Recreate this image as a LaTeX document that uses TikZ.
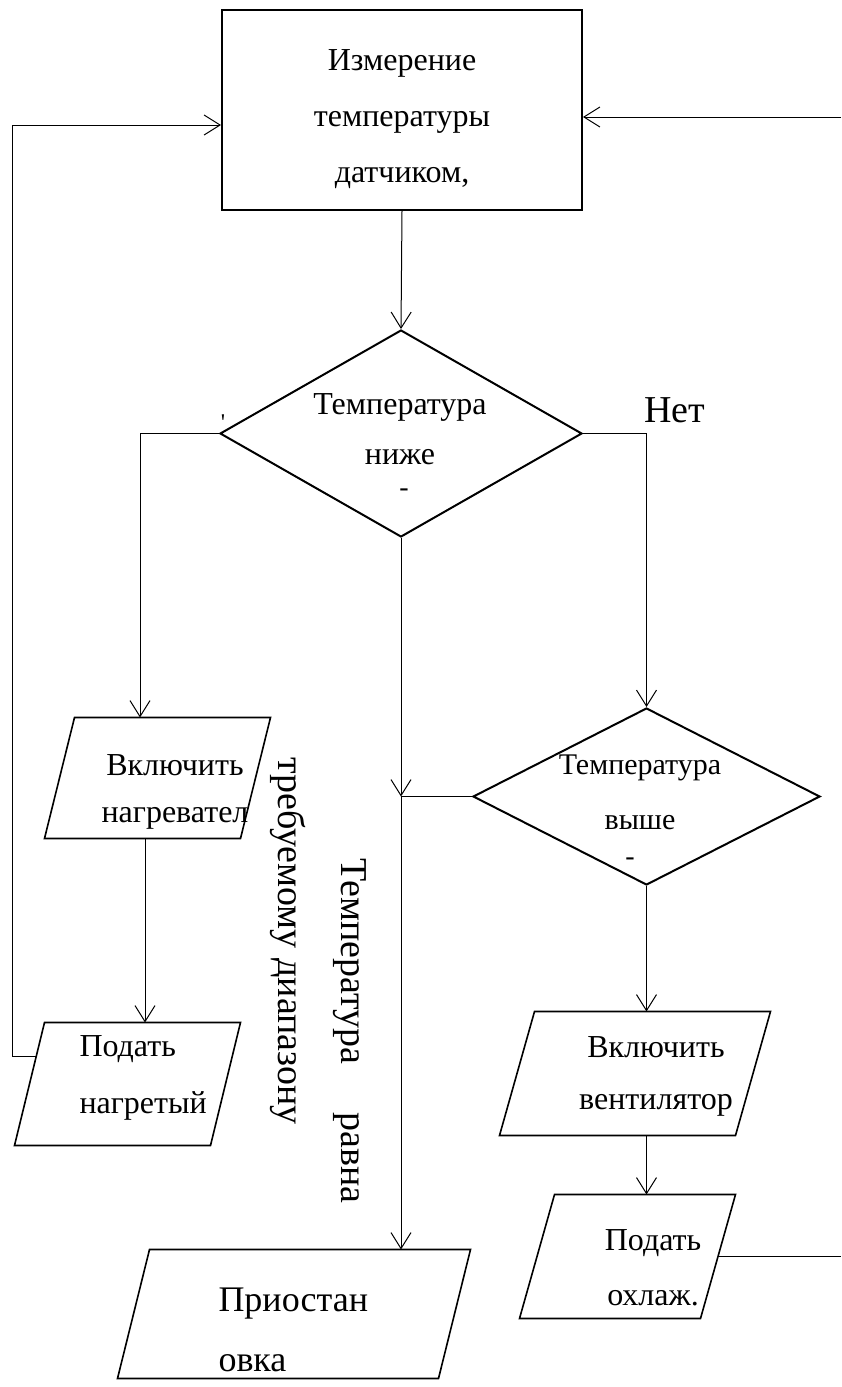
\documentclass[tikz,border=0pt]{standalone}
\usepackage{fontspec}
\setmainfont{Liberation Serif}
\usetikzlibrary{calc,arrows.meta,shapes.geometric}

\tikzset{
	caixa/.style={draw,line width=1pt,minimum width=180pt,minimum height=100pt,inner sep=0pt},
	losango/.style={diamond,draw,line width=1pt,inner sep=0pt},
	paral/.style={rectangle,inner sep=0pt},
	texto/.style={align=center,inner sep=0pt},
}
\newcommand{\paral}[2]{\draw[line width=0.8pt] ([xshift=#2]#1.north west) -- (#1.north east) -- ([xshift=-#2]#1.south east) -- (#1.south west) -- cycle;}
\newcommand{\fonte}[2]{\fontsize{#1}{#2}\selectfont}

\begin{document}
\begin{tikzpicture}[x=0.5pt,y=-0.5pt,>={Straight Barb[length=8pt,width=10pt]},line width=0.5pt]
		\useasboundingbox (0,0) rectangle (841,1387);
		
%		caixa superior
		\node[caixa] (med) at (402,110) {};
		\node[texto,font=\fonte{16}{28}] (tmed) at (402,119) {Измерение\\температуры\\датчиком,};
		
%		losangos
		\node[losango,minimum width=181pt,minimum height=103.5pt] (dbaixo) at (401,433.5) {};
		\node[texto,font=\fonte{16}{25}] (tbaixo) at (400,429) {Температура\\ниже};
		\node[losango,minimum width=173.5pt,minimum height=88.5pt] (dalto) at (646.5,796.5) {};
		\node[texto,font=\fonte{15}{27.5}] (talto) at (640,792) {Температура\\выше};
		
%		paralelogramos
		\node[paral,minimum width=112.5pt,minimum height=60pt] (aquec) at (157.5,778) {};
		\paral{aquec}{15pt}
		\node[texto,font=\fonte{16}{23.5}] (taquec) at (175,792) {Включить\\нагревател};
		
		\node[paral,minimum width=112.5pt,minimum height=61pt] (quente) at (127.5,1084) {};
		\paral{quente}{15pt}
		\node[texto,align=left,anchor=west,font=\fonte{16}{28.5}] (tquente) at (79,1078) {Подать\\нагретый};
		
		\node[paral,minimum width=176pt,minimum height=64pt] (pausa) at (294,1314) {};
		\paral{pausa}{16pt}
		\node[texto,align=left,anchor=west,font=\fonte{18}{30}] (tpausa) at (218,1330) {Приостан\\овка};
		
		\node[paral,minimum width=135pt,minimum height=61.5pt] (vent) at (635,1073.5) {};
		\paral{vent}{17.5pt}
		\node[texto,font=\fonte{16}{26}] (tvent) at (656,1076) {Включить\\вентилятор};
		
		\node[paral,minimum width=107.5pt,minimum height=61.5pt] (frio) at (627.5,1256.5) {};
		\paral{frio}{17.5pt}
		\node[texto,font=\fonte{16}{27.5}] (tfrio) at (653,1268) {Подать\\охлаж.};
		
%		textos soltos
		\node[font=\fonte{19}{19}] (nao) at (675,410) {Нет};
		\node[rotate=-90,font=\fonte{19}{19}] (faixa) at (288,941) {требуемому диапазону};
		\node[rotate=-90,font=\fonte{19}{19}] (igual) at (350,1031) {Температура\hspace{24pt}равна};
		\node[inner sep=0pt,font=\fonte{12}{12}] (m1) at (223,423) {\textquotesingle};
		\node[inner sep=0pt,font=\fonte{14}{14}] (m2) at (404,493) {-};
		\node[inner sep=0pt,font=\fonte{14}{14}] (m3) at (630,862) {-};
		
%		ligacoes
		\coordinate (esq) at (12,125);
		\coordinate (dirsup) at (841,117);
		\coordinate (dirinf) at (841,1258);
		\coordinate (jun) at (dbaixo.south |- dalto.west);
		\coordinate (qin) at ($([xshift=15pt]quente.north west)!0.28!(quente.south west)$);
		\coordinate (fsai) at ($(frio.north east)!0.5!([xshift=-17.5pt]frio.south east)$);
		
		\draw[->] (med.south) -- (dbaixo.north);
		\draw[->] (dbaixo.west) -| ([xshift=-8.75pt]aquec.north);
		\draw[->] ([xshift=-6.25pt]aquec.south) -- ([xshift=-6.25pt]aquec.south |- quente.north);
		\draw[->] (qin) -- (esq |- qin) |- ([yshift=-7.5pt]med.west);
		\draw[->] (dbaixo.east) -| (dalto.north);
		\draw[->] (dbaixo.south) -- (jun);
		\draw[->] (jun) -- (jun |- pausa.north);
		\draw (dalto.west) -- (jun);
		\draw[->] (dalto.south) -- (dalto.south |- vent.north);
		\draw[->] (dalto.south |- vent.south) -- (dalto.south |- frio.north);
		\draw (fsai) -- (fsai -| dirinf);
		\draw[->] (dirsup) -- (med.east |- dirsup);
\end{tikzpicture}
\end{document}
